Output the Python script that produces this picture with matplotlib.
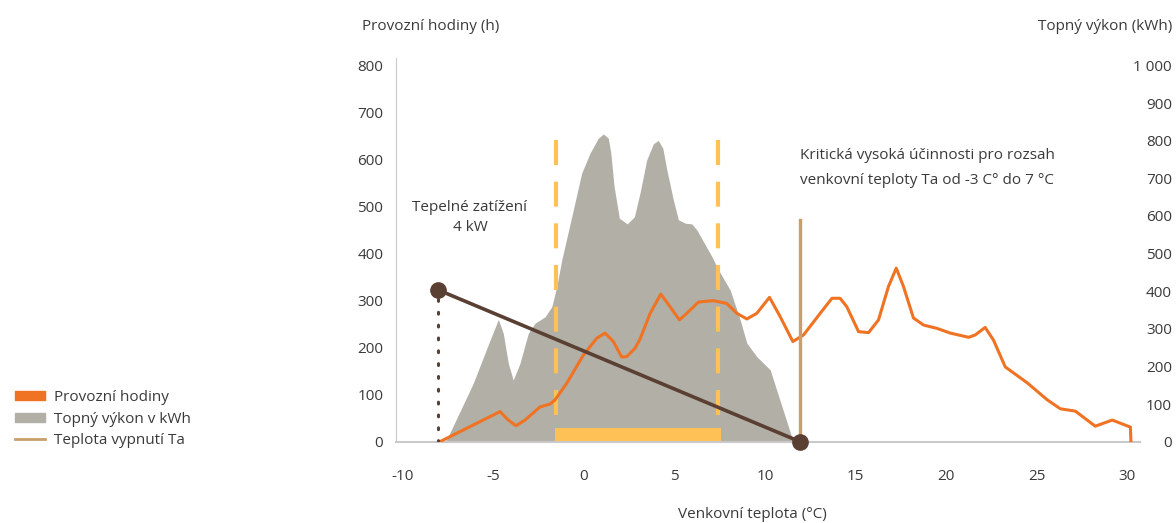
import matplotlib
matplotlib.use('Agg')
import matplotlib.pyplot as plt
from matplotlib.patches import Patch
from matplotlib.lines import Line2D
from matplotlib.ticker import FuncFormatter

plt.rcParams['font.family'] = ['Open Sans', 'DejaVu Sans']
plt.rcParams['font.size'] = 11
plt.rcParams['axes.unicode_minus'] = False

# topny vykon (kWh) - seda plocha, prava osa
heat_t = [-7.87, -7.59, -6.12, -5.19, -4.73, -4.46, -4.18, -3.91, -3.54, -3.08, -2.71,
          -2.15, -1.78, -1.51, -1.23, -0.68, -0.13, 0.33, 0.79, 1.07, 1.34, 1.48,
          1.66, 1.95, 2.39, 2.78, 3.09, 3.46, 3.83, 4.10, 4.35, 4.57, 4.93, 5.21,
          5.58, 5.95, 6.23, 7.06, 7.42, 8.07, 8.62, 8.99, 9.54, 10.28, 11.55]
heat_kwh = [0, 5, 155, 270, 325, 288, 208, 164, 208, 288, 315,
            332, 359, 412, 483, 598, 714, 767, 807, 818, 807, 767,
            678, 594, 579, 598, 661, 749, 792, 801, 780, 723, 643, 590,
            581, 579, 563, 492, 457, 403, 324, 262, 226, 191, 0]

# provozni hodiny (h) - oranzova cara, leva osa
hours_t = [-7.96, -4.64, -4.18, -3.76, -3.26, -2.43, -1.88, -1.60, -0.96, -0.04,
           0.70, 1.16, 1.62, 2.08, 2.36, 2.82, 3.09, 3.65, 4.24, 4.75, 5.27,
           5.67, 6.32, 7.14, 7.88, 8.44, 8.99, 9.54, 10.24, 10.83, 11.53, 12.12,
           13.04, 13.69, 14.14, 14.51, 15.16, 15.71, 16.26, 16.81, 17.24, 17.64,
           18.19, 18.75, 19.49, 20.22, 21.24, 21.60, 22.15, 22.61, 23.26, 24.48,
           25.58, 26.30, 27.13, 28.23, 29.17, 30.17, 30.2]
hours = [0, 64, 46, 34, 46, 74, 80, 89, 124, 184,
         220, 231, 213, 180, 181, 199, 218, 273, 314, 287, 259,
         273, 297, 300, 294, 273, 261, 273, 307, 266, 213, 227,
         273, 305, 305, 287, 234, 232, 259, 330, 369, 330,
         263, 248, 241, 231, 222, 227, 243, 216, 159, 125,
         89, 70, 65, 33, 46, 31, 0]

# tepelne zatizeni 4 kW
load_t = [-8.07, 11.93]
load_h = [323, 0]

ta_off = 11.93          # teplota vypnuti
ta_top = 471
crit_range = [-1.53, 7.40]   # carkovane hranice
crit_top = 654
crit_bottom = 57
bar_range = [-1.6, 7.57]
bar_height = 29

x_ticks = [-10, -5, 0, 5, 10, 15, 20, 25, 30]
left_ticks = [0, 100, 200, 300, 400, 500, 600, 700, 800]
right_ticks = [0, 100, 200, 300, 400, 500, 600, 700, 800, 900, 1000]

ORANGE = '#ef7323'
GREY = '#b2afa6'
BROWN = '#5a3f33'
BEIGE = '#c79e6c'
YELLOW = '#fec155'
TXT = '#3a3a3a'

fig = plt.figure(figsize=(11.76, 5.23), dpi=100)
ax = fig.add_axes([395.7 / 1176, (523 - 441.7) / 523, (1140 - 395.7) / 1176, (441.7 - 58) / 523])
ax2 = ax.twinx()
ax.set_zorder(ax2.get_zorder() + 1)
ax.patch.set_visible(False)

ax.set_xlim(-10.4, 30.7)
ax.set_ylim(0, 816)
ax2.set_ylim(0, 1020)

# seda plocha
ax2.fill_between(heat_t, heat_kwh, 0, color=GREY, linewidth=0)

# zluty pruh + carkovane cary
ax.fill_between(bar_range, bar_height, 0, color=YELLOW, linewidth=0, zorder=2)
for xv in crit_range:
    ax.plot([xv, xv], [crit_bottom, crit_top], color=YELLOW, lw=3, dashes=(6, 4), zorder=2)

# oranzova cara
ax.plot(hours_t, hours, color=ORANGE, lw=2.2, solid_joinstyle='round', zorder=3)

# teplota vypnuti
ax.plot([ta_off, ta_off], [0, ta_top], color=BEIGE, lw=2.4, zorder=3)

# tepelne zatizeni
ax.plot([load_t[0], load_t[0]], [0, load_h[0]], color=BROWN, lw=2.2, ls=(0, (0.6, 3.6)),
        dash_capstyle='round', zorder=4)
ax.plot(load_t, load_h, color=BROWN, lw=2.6, marker='o', ms=11, zorder=5, clip_on=False)

ax.text(-6.3, 477, 'Tepelné zatížení\n4 kW', ha='center', va='center', color=TXT,
        linespacing=1.5)
ax.text(18.95, 583, 'Kritická vysoká účinnosti pro rozsah\nvenkovní teploty Ta od -3 C° do 7 °C',
        ha='center', va='center', color=TXT, linespacing=1.9)

# osy
ax.set_xticks(x_ticks)
ax.set_yticks(left_ticks)
ax2.set_yticks(right_ticks)
ax2.yaxis.set_major_formatter(FuncFormatter(lambda v, p: f'{int(v):,}'.replace(',', ' ')))
ax.tick_params(axis='both', length=0, colors=TXT, labelsize=11)
ax.tick_params(axis='x', pad=20)
ax.tick_params(axis='y', pad=9)
ax2.tick_params(axis='y', length=0, colors=TXT, labelsize=11, pad=23)
for lab in ax2.get_yticklabels():
    lab.set_horizontalalignment('right')

for s in ['top', 'right']:
    ax.spines[s].set_visible(False)
for s in ax2.spines.values():
    s.set_visible(False)
ax.spines['left'].set_color('#c9c9c9')
ax.spines['bottom'].set_color('#c9c9c9')
ax.spines['bottom'].set_linewidth(1.5)

fig.text(362 / 1176, 1 - 27 / 523, 'Provozní hodiny (h)', ha='left', va='center', color=TXT)
fig.text(1172 / 1176, 1 - 27 / 523, 'Topný výkon (kWh)', ha='right', va='center', color=TXT)
fig.text(752 / 1176, 1 - 515 / 523, 'Venkovní teplota (°C)', ha='center', va='center', color=TXT)

handles = [Patch(color=ORANGE), Patch(color=GREY), Line2D([0], [0], color=BEIGE, lw=2)]
fig.legend(handles, ['Provozní hodiny', 'Topný výkon v kWh', 'Teplota vypnutí Ta'],
           loc='upper left', bbox_to_anchor=(1 / 1176, 1 - 376 / 523), frameon=False,
           handlelength=2.0, handleheight=0.55, handletextpad=0.6, labelspacing=0.45,
           labelcolor=TXT, fontsize=11)

fig.savefig('out.png', dpi=100)
